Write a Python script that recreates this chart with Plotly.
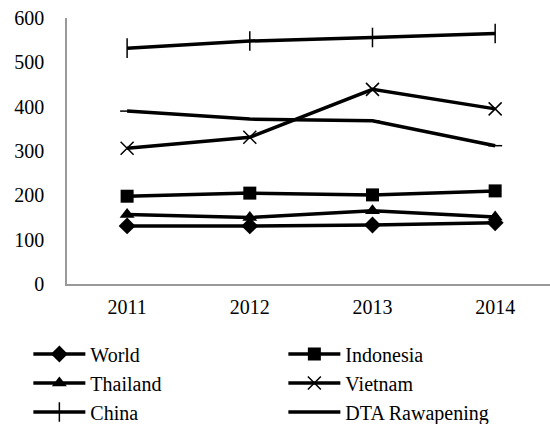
import plotly.graph_objects as go

years = ["2011", "2012", "2013", "2014"]
world = [131, 131, 133, 138]
indonesia = [198, 205, 201, 210]
thailand = [157, 150, 165, 151]
vietnam = [306, 331, 439, 395]
china = [532, 548, 556, 565]
dta_rawapening = [390, 372, 368, 312]

# (name, values, marker style, legend row)
series = [
    ("World", world, dict(symbol="diamond", size=13), "legend"),
    ("Indonesia", indonesia, dict(symbol="square", size=13), "legend"),
    ("Thailand", thailand, dict(symbol="triangle-up", size=13), "legend2"),
    ("Vietnam", vietnam, dict(symbol="x-thin-open", size=13, line=dict(width=1.5, color="black")), "legend2"),
    ("China", china, dict(symbol="line-ns-open", size=14, line=dict(width=1.5, color="black")), "legend3"),
    ("DTA Rawapening", dta_rawapening, dict(symbol="line-ew-open", size=10, line=dict(width=1.5, color="#555")), "legend3"),
]

fig = go.Figure()
for name, vals, mk, lg in series:
    fig.add_trace(go.Scatter(
        x=years, y=vals, name=name, mode="lines+markers",
        line=dict(color="black", width=3.5),
        marker=dict(color="black", **mk),
        legend=lg,
    ))

font = dict(family="Liberation Serif, Times New Roman, serif", size=20, color="black")

def row_legend(ypx):
    # one legend per row, two entries side by side
    return dict(
        orientation="h", x=-0.08, y=(284 - ypx) / 266, xanchor="left", yanchor="middle",
        entrywidth=188, entrywidthmode="pixels",
        font=font, itemwidth=52, bgcolor="rgba(0,0,0,0)",
    )

fig.update_layout(
    width=550, height=424,
    margin=dict(l=67, r=0, t=18, b=140, autoexpand=False),
    paper_bgcolor="white", plot_bgcolor="white",
    font=font,
    showlegend=True,
    legend=row_legend(354),
    legend2=row_legend(383),
    legend3=row_legend(412),
    xaxis=dict(
        type="category", range=[-0.49, 3.447],
        showline=True, linecolor="#999", linewidth=1.5,
        showgrid=False, ticks="", tickfont=font, ticklabelstandoff=4,
    ),
    yaxis=dict(
        range=[0, 600], dtick=100,
        showline=True, linecolor="#999", linewidth=1.5,
        showgrid=False, zeroline=False, ticks="", ticklabelstandoff=17, tickfont=font,
    ),
)

fig.write_html("out.html")
